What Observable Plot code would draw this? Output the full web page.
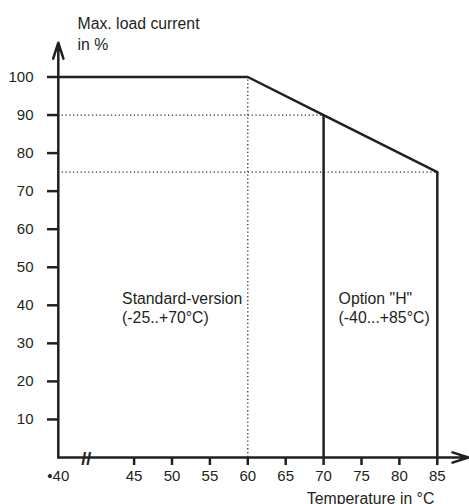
<!DOCTYPE html>
<html><head><meta charset="utf-8">
<script src="https://cdn.jsdelivr.net/npm/d3@7"></script>
<script src="https://cdn.jsdelivr.net/npm/@observablehq/plot@0.6"></script>
<style>body{margin:0;background:#fff}</style>
</head><body><div id="chart"></div>
<script>
// Data
const temps = [-40, 60, 70, 85];        // temperature in °C (axis broken between -40 and 45)
const loads = [100, 100, 90, 75];       // max. load current in %
const yTicks = [10, 20, 30, 40, 50, 60, 70, 80, 90, 100];
const xTicks = [45, 50, 55, 60, 65, 70, 75, 80, 85];
const originTick = [-40];
const originLabel = "•40";
const yTitle = "Max. load current\nin %";
const xTitle = "Temperature in °C";
const standardLabel = "Standard-version\n(-25..+70°C)";
const optionLabel = "Option \"H\"\n(-40...+85°C)";

const ink = "#231f20";
const points = temps.map((t, i) => ({t, load: loads[i]}));
const xMin = temps[0];
// broken axis: everything below 45 is shifted next to the 45 tick
const breakAxis = t => (t < 45 ? t + 75 : t);

const plot = Plot.plot({
  width: 469,
  height: 504,
  marginLeft: 58,
  marginTop: 0,
  marginBottom: 47,
  marginRight: 0,
  style: {fontFamily: "'Liberation Sans', Arial, sans-serif", fontSize: "15px", color: ink, background: "#fff"},
  x: {transform: breakAxis, domain: [35, 85], range: [57.8, 436.8], axis: null},
  y: {domain: [0, 100], range: [457, 76.5], axis: null},
  marks: [
    // dotted guides
    Plot.ruleX(points.filter(p => p.t === 60), {x: "t", y1: 0, y2: "load", stroke: "#333", strokeWidth: 1.3, strokeDasharray: "1.3,2.5"}),
    Plot.ruleY(points.filter(p => p.t >= 70), {y: "load", x1: xMin, x2: "t", stroke: "#333", strokeWidth: 1.3, strokeDasharray: "1.3,2.5"}),
    // solid limits
    Plot.ruleX(points.filter(p => p.t >= 70), {x: "t", y1: 0, y2: "load", stroke: ink, strokeWidth: 2.5}),
    Plot.line(points, {x: "t", y: "load", stroke: ink, strokeWidth: 2.5}),
    // axes with arrows
    Plot.arrow([{x1: xMin, y1: 0, x2: xMin, y2: 109}], {x1: "x1", y1: "y1", x2: "x2", y2: "y2", stroke: ink, strokeWidth: 2.5, headLength: 10, headAngle: 36}),
    Plot.arrow([{x1: xMin, y1: 0, x2: 89.1, y2: 0}], {x1: "x1", y1: "y1", x2: "x2", y2: "y2", stroke: ink, strokeWidth: 2.5, headLength: 10, headAngle: 36}),
    Plot.axisY(yTicks, {anchor: "left", tickSize: 11, tickPadding: 14, strokeWidth: 2.5, stroke: ink, fill: ink, fontSize: 15}),
    Plot.axisX(xTicks, {anchor: "bottom", tickSize: 8, tickPadding: 5, strokeWidth: 2.5, stroke: ink, fill: ink, fontSize: 15}),
    Plot.axisX(originTick, {anchor: "bottom", tickSize: 0, tickPadding: 13, tickFormat: () => originLabel, fill: ink, fontSize: 15}),
    // axis break mark
    Plot.text([xMin], {x: () => -36.3, y: () => 0, dy: 2, text: () => "//", fontSize: 18, fontWeight: "bold", fill: ink}),
    // titles
    Plot.text([yTitle], {frameAnchor: "top-left", text: d => d, dx: 19, dy: 14, textAnchor: "start", lineAnchor: "top", lineHeight: 1.3, fontSize: 15.8, fill: ink}),
    Plot.text([xTitle], {x: () => 85, y: () => 0, text: d => d, textAnchor: "end", lineAnchor: "top", dx: -3, dy: 35, fontSize: 15.8, fill: ink}),
    // region labels
    Plot.text([standardLabel], {x: () => 45, y: () => 39.5, text: d => d, dx: -12, textAnchor: "start", lineAnchor: "middle", lineHeight: 1.22, fontSize: 15.8, fill: ink}),
    Plot.text([optionLabel], {x: () => 70, y: () => 39.5, text: d => d, dx: 15, textAnchor: "start", lineAnchor: "middle", lineHeight: 1.22, fontSize: 15.8, fill: ink})
  ]
});
document.getElementById("chart").append(plot);
</script>
</body></html>
